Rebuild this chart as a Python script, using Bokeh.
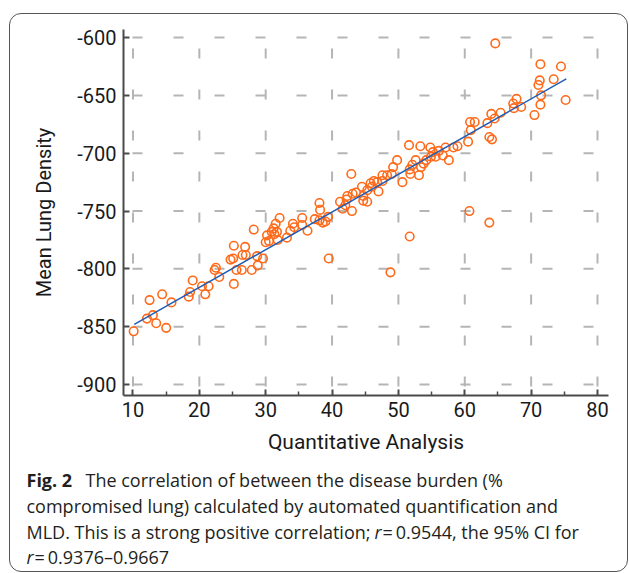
from bokeh.plotting import figure
from bokeh.models import FixedTicker, Label, Range1d, InlineStyleSheet, LinearAxis
from bokeh.embed import file_html
from bokeh.resources import INLINE

# ---- data ----
x_vals = [10.1, 12.1, 13.0, 12.5, 13.5, 15.0, 14.4, 15.8, 18.4, 18.6, 19.0, 20.4, 20.9, 21.4,
          22.3, 22.5, 23.0, 25.2, 25.2, 24.7, 25.1, 26.9, 26.5, 27.0, 25.6, 26.4, 27.9, 28.8,
          28.7, 28.2, 29.6,
          30.0, 30.5, 30.2, 30.9, 31.2, 31.5, 31.3, 31.7, 31.8, 32.1, 33.2, 33.7, 34.1, 34.3,
          35.5, 35.5, 36.3, 37.4, 38.1, 38.2, 38.1, 38.6, 39.0, 39.4, 39.5,
          41.2, 41.6, 42.0, 42.2, 42.3, 43.0, 43.1, 43.6, 42.9, 44.5, 44.7, 44.7, 45.3, 45.3,
          45.8, 46.0, 46.3, 46.8, 47.0, 47.6, 47.6, 48.3, 49.0, 49.2, 49.8, 50.6, 48.8,
          51.6, 51.7, 51.8, 52.1, 52.6, 53.1, 53.3, 53.4, 53.8, 54.2, 54.8, 54.9, 55.2, 55.6,
          56.1, 56.7, 57.1, 57.6, 58.3, 58.9, 51.7,
          60.5, 60.8, 61.5, 60.9, 63.4, 64.0, 64.5, 65.4, 63.7, 64.1, 67.3, 67.8, 67.4, 68.5,
          70.5, 71.5, 71.4, 71.1, 71.3, 71.4, 73.4, 74.5, 75.2, 64.6, 60.7, 63.7]
y_vals = [-854, -843, -840, -827, -847, -851, -822, -829, -824, -820, -810, -815, -822, -815,
          -801, -799, -807, -813, -780, -792, -791, -781, -788, -788, -801, -801, -801, -797,
          -789, -766, -791,
          -777, -776, -771, -768, -765, -761, -770, -768, -775, -756, -773, -767, -761, -764,
          -756, -762, -767, -757, -743, -749, -758, -760, -759, -755, -791,
          -742, -748, -745, -740, -737, -750, -735, -734, -718, -729, -737, -741, -732, -742,
          -726, -729, -724, -725, -733, -719, -724, -719, -718, -712, -706, -725, -803,
          -693, -714, -718, -710, -706, -719, -694, -712, -709, -706, -695, -703, -699, -703,
          -698, -702, -695, -706, -695, -694, -772,
          -690, -673, -673, -680, -674, -666, -670, -665, -686, -688, -657, -653, -661, -660,
          -667, -650, -658, -641, -637, -623, -636, -625, -654, -605, -750, -760]
fit_x = [10.2, 75.3]
fit_y = [-848.0, -635.7]

x_ticks = [10, 20, 30, 40, 50, 60, 70, 80]
x_minor = [15, 25, 35, 45, 55, 65, 75]
y_ticks = [-600, -650, -700, -750, -800, -850, -900]
y_tick_labels = ["-600", "-650", "-700", "-750", "-800", "-850", "-900"]

x_title = "Quantitative Analysis"
y_title = "Mean Lung Density"
cap_bold = "Fig. 2"
cap_l1 = "The correlation of between the disease burden (%"
cap_l2 = "compromised lung) calculated by automated quantification and"
cap_l3a = "MLD. This is a strong positive correlation;"
cap_r = "r"
cap_l3b = "=\u20090.9544, the 95% CI for"
cap_l4b = "=\u20090.9376\u20130.9667"

W, H = 629, 573
FL, FR, FT, FB = 123, 608, 29, 395      # plot-area edges in page pixels
XA, XB = 8.57, 81.66                     # data values at FL, FR
YA, YB = -909.5, -593.0                  # data values at FB, FT
kx = (FR - FL) / (XB - XA)
ky = (FB - FT) / (YB - YA)

def dx(px):
    return XA + (px - FL) / kx
def dy(py):
    return YA + (FB - py) / ky

# the frame covers the whole canvas so the caption can live inside it
p = figure(width=W, height=H, output_backend="svg", toolbar_location=None,
           x_range=Range1d(dx(0), dx(W)), y_range=Range1d(dy(H), dy(0)),
           x_axis_type=None, y_axis_type=None,
           min_border_left=0, min_border_right=0, min_border_top=0, min_border_bottom=0)
p.outline_line_color = None
p.background_fill_color = "white"
p.border_fill_color = "white"
p.stylesheets = [InlineStyleSheet(css="""
:host { position: relative; }
:host::after { content: ""; position: absolute; left: 9px; top: 13px;
  width: 619px; height: 559px; box-sizing: border-box;
  border: 1.3px solid #555555; border-radius: 12px; pointer-events: none; }
""")]

# dashed grid, limited to the plot area
grid_style = dict(line_color="#b5b5b5", line_width=2, line_dash="10 31", line_dash_offset=32)
p.segment(x0=x_ticks, y0=[YA] * len(x_ticks), x1=x_ticks, y1=[YB] * len(x_ticks), **grid_style)
p.segment(x0=[XA] * len(y_ticks), y0=y_ticks, x1=[XB] * len(y_ticks), y1=y_ticks, **grid_style)

xaxis = LinearAxis(fixed_location=YA, bounds=(XA, XB),
                   ticker=FixedTicker(ticks=x_ticks, minor_ticks=x_minor))
yaxis = LinearAxis(fixed_location=XA, bounds=(YA, YB),
                   ticker=FixedTicker(ticks=y_ticks))
yaxis.major_label_overrides = {t: l for t, l in zip(y_ticks, y_tick_labels)}
for ax in (xaxis, yaxis):
    ax.axis_line_color = "#4a4a4a"
    ax.axis_line_width = 2
    ax.major_tick_in = 6
    ax.major_tick_out = 0
    ax.major_tick_line_color = "#4a4a4a"
    ax.major_tick_line_width = 2
    ax.minor_tick_in = 4
    ax.minor_tick_out = 0
    ax.minor_tick_line_color = "#4a4a4a"
    ax.minor_tick_line_width = 1.5
    ax.major_label_text_font = "Roboto"
    ax.major_label_text_font_size = "20px"
    ax.major_label_text_color = "#1a1a1a"
    ax.axis_label_text_font = "Roboto"
    ax.axis_label_text_font_style = "normal"
    ax.axis_label_text_color = "#1a1a1a"
yaxis.minor_tick_line_color = None
xaxis.axis_label = x_title
yaxis.axis_label = y_title
xaxis.axis_label_text_font_size = "21px"
yaxis.axis_label_text_font_size = "20px"
xaxis.major_label_standoff = 6
yaxis.major_label_standoff = 7
xaxis.axis_label_standoff = 10
yaxis.axis_label_standoff = 18
p.add_layout(xaxis, "below")
p.add_layout(yaxis, "left")

p.scatter(x_vals, y_vals, marker="circle", size=8.5, fill_color=None,
          line_color="#ff6a1a", line_width=1.6)
p.line(fit_x, fit_y, line_color="#1f5db5", line_width=1.5)

cf = "Open Sans"
cc = "#231f20"
def lab(txt, px, py, style="normal", size="18px"):
    p.add_layout(Label(x=dx(px), y=dy(py), text=txt, text_font=cf,
                       text_font_size=size, text_color=cc, text_font_style=style,
                       text_baseline="alphabetic", text_align="left"))

lab(cap_bold, 26, 479, "bold")
lab(cap_l1, 85, 479)
lab(cap_l2, 26, 505)
lab(cap_l3a, 26, 531)
lab(cap_r, 374, 531, "italic")
lab(cap_l3b, 382, 531)
lab(cap_r, 26, 556, "italic")
lab(cap_l4b, 34, 556)

open("out.html", "w").write(file_html(p, INLINE))
